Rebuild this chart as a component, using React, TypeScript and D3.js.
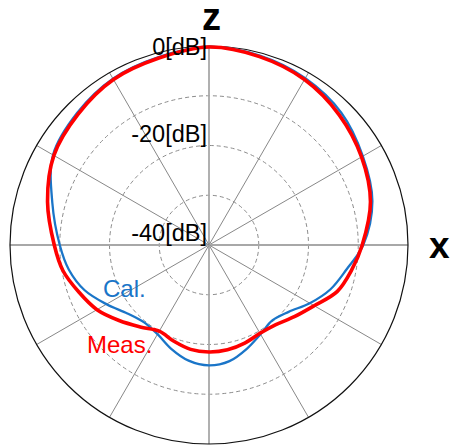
import React, { useEffect, useRef } from "react";
import * as d3 from "d3";

// angle in degrees, clockwise from z axis
const angles = [0, 15, 30, 45, 60, 75, 90, 100, 110, 120, 130, 140, 150, 160, 170, 180,
  190, 200, 210, 220, 230, 240, 250, 260, 270, 285, 300, 315, 330, 345];
const measValues = [-0.2, -0.8, -1.6, -3.0, -4.6, -6.4, -9.2, -10.9, -12.6, -15.6, -17.6, -19.1, -19.5, -19.0, -18.6, -18.5,
  -18.7, -19.4, -20.0, -18.5, -16.4, -14.0, -12.2, -10.2, -8.9, -6.4, -4.0, -2.8, -1.6, -1.1];
const calValues = [-0.2, -0.6, -1.3, -2.4, -4.3, -6.0, -9.0, -11.9, -14.0, -16.6, -19.1, -20.2, -19.3, -17.8, -16.3, -15.8,
  -16.4, -17.8, -19.3, -19.7, -18.6, -16.2, -13.4, -11.4, -10.0, -7.4, -3.8, -2.5, -1.4, -0.9];
const ringValues = [-30, -20, -10];
const tickLabels = ["0[dB]", "-20[dB]", "-40[dB]"];
const tickValues = [0, -20, -40];
const spokeAngles = d3.range(0, 360, 30);

const width = 450;
const height = 447;
const cx = 209;
const cy = 245;
const R = 199;

const BLUE = "#1a75c8";
const RED = "#ff0000";
const FONT = "'Liberation Sans', Arial, sans-serif";

const App = () => {
  const ref = useRef(null);

  useEffect(() => {
    const g = d3.select(ref.current);
    g.selectAll("*").remove();

    const r = d3.scaleLinear().domain([-40, 0]).range([0, R]);
    const rad = (a: number) => (a * Math.PI) / 180;

    // dashed rings
    g.selectAll("circle.ring")
      .data(ringValues)
      .enter()
      .append("circle")
      .attr("class", "ring")
      .attr("r", d => r(d))
      .attr("fill", "none")
      .attr("stroke", "#8c8c8c")
      .attr("stroke-width", 1)
      .attr("stroke-dasharray", "4,3");

    // spokes
    g.selectAll("line.spoke")
      .data(spokeAngles)
      .enter()
      .append("line")
      .attr("class", "spoke")
      .attr("x1", 0)
      .attr("y1", 0)
      .attr("x2", d => R * Math.sin(rad(d)))
      .attr("y2", d => -R * Math.cos(rad(d)))
      .attr("stroke", d => (d % 90 === 0 ? "#a8a8a8" : "#888888"))
      .attr("stroke-width", d => (d % 90 === 0 ? 1.8 : 1));

    // outer circle
    g.append("circle")
      .attr("r", r(0))
      .attr("fill", "none")
      .attr("stroke", "#111")
      .attr("stroke-width", 1.2);

    const line = d3
      .lineRadial<number>()
      .angle((d, i) => rad(angles[i]))
      .radius(d => r(d))
      .curve(d3.curveCatmullRomClosed.alpha(0.5));

    g.append("path")
      .attr("d", line(calValues))
      .attr("fill", "none")
      .attr("stroke", BLUE)
      .attr("stroke-width", 2.3);

    g.append("path")
      .attr("d", line(measValues))
      .attr("fill", "none")
      .attr("stroke", RED)
      .attr("stroke-width", 3.6);

    // tick labels
    g.selectAll("text.tick")
      .data(tickValues)
      .enter()
      .append("text")
      .attr("class", "tick")
      .attr("x", -2)
      .attr("y", d => -r(d) + (d === 0 ? 9 : -4))
      .attr("text-anchor", "end")
      .style("font-family", FONT)
      .style("font-size", "23.5px")
      .style("fill", "#000")
      .text((d, i) => tickLabels[i]);
  }, []);

  return (
    <svg width={width} height={height} style={{ position: "absolute", left: 0, top: 0 }}>
      <g ref={ref} transform={`translate(${cx} ${cy})`} />
      <text x={211.5} y={30} textAnchor="middle" fontFamily={FONT} fontWeight="bold" fontSize={38}>z</text>
      <text x={429} y={258} fontFamily={FONT} fontWeight="bold" fontSize={37}>x</text>
      <text x={103} y={297} fontFamily={FONT} fontSize={24} fill={BLUE}>Cal.</text>
      <text x={87} y={353} fontFamily={FONT} fontSize={24} fill={RED}>Meas.</text>
    </svg>
  );
};

export default App;
